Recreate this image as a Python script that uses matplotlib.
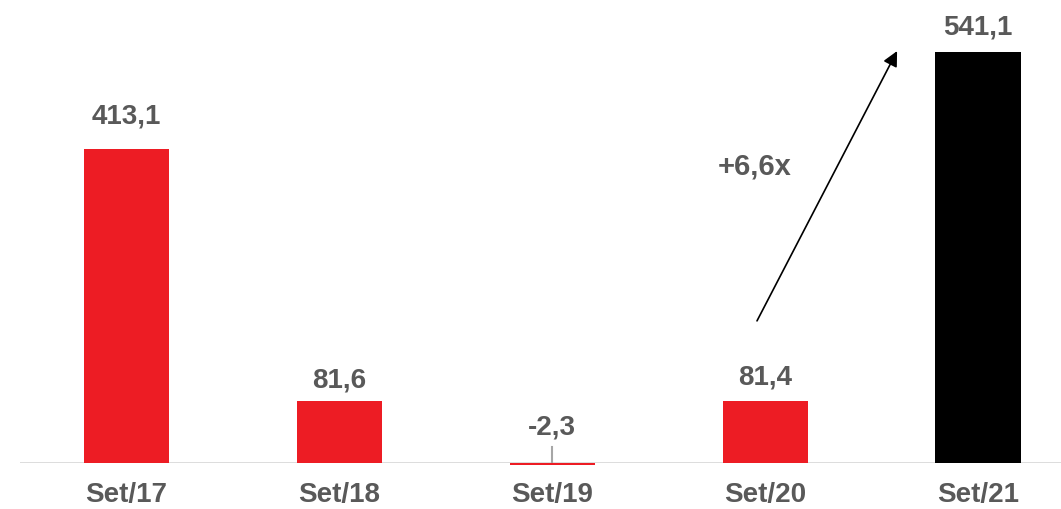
import matplotlib.pyplot as plt
import numpy as np

plt.rcParams['font.family'] = ['Liberation Sans', 'DejaVu Sans']

periods = ['Set/17', 'Set/18', 'Set/19', 'Set/20', 'Set/21']
values = [413.1, 81.6, -2.3, 81.4, 541.1]
bar_colors = ['#ED1C24', '#ED1C24', '#ED1C24', '#ED1C24', '#000000']
growth_label = '+6,6x'

text_gray = '#595959'
# label centre distance above the bar top, in pixels
label_gap_px = [34, 21, 36, 25, 25]

fig = plt.figure(figsize=(10.61, 5.10), dpi=100)
ax = fig.add_axes([20 / 1061, 46 / 510, 1041 / 1061, 464 / 510])

x = np.arange(len(periods))
ax.bar(x, values, 0.40, color=bar_colors, clip_on=False, zorder=2)

ax.set_xlim(-0.5, 4.39)
ax.set_ylim(0, 610.5)

# baseline
ax.axhline(0, color='#d9d9d9', lw=2, zorder=1)

for xi, v, gap in zip(x, values, label_gap_px):
    lbl = f'{v:.1f}'.replace('.', ',')
    top = max(v, 0)
    if v < 0:
        ax.plot([xi, xi], [0, 21], color='#a6a6a6', lw=1.5, zorder=1)
    ax.annotate(lbl, (xi, top), xytext=(0, gap * 0.72), textcoords='offset points',
                ha='center', va='center', fontsize=20, fontweight='bold', color=text_gray)

ax.set_xticks(x)
ax.set_xticklabels(periods, fontsize=20, fontweight='bold', color=text_gray)
ax.tick_params(axis='x', length=0, pad=13)
ax.set_yticks([])
for s in ax.spines.values():
    s.set_visible(False)

# growth arrow
ax.annotate('', xy=(3.62, 542), xytext=(2.962, 187),
            arrowprops=dict(arrowstyle='-|>,head_length=0.9,head_width=0.45',
                            color='#000000', lw=1.2, shrinkA=0, shrinkB=0))
ax.text(2.95, 392, growth_label, ha='center', va='center', fontsize=21,
        fontweight='bold', color=text_gray)

fig.savefig('out.png', dpi=100)
